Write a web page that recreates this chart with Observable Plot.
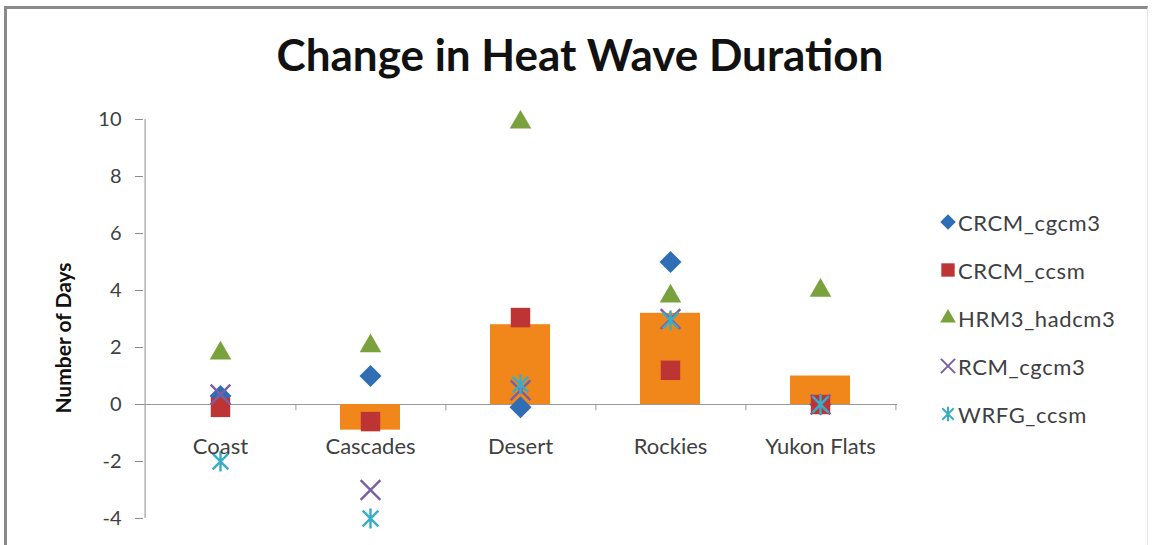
<!DOCTYPE html>
<html>
<head>
<meta charset="utf-8">
<script src="https://cdn.jsdelivr.net/npm/d3@7"></script>
<script src="https://cdn.jsdelivr.net/npm/@observablehq/plot@0.6"></script>
<style>
  html, body { margin: 0; padding: 0; background: #fff; }
  #wrap { position: relative; width: 1153px; height: 545px; overflow: hidden; font-family: Lato, "Open Sans", sans-serif; }
  #wrap svg.plot { position: absolute; left: 0; top: 0; }
  #frame { position: absolute; left: 4px; top: 6px; width: 1144px; height: 560px; border-top: 3px solid #8a8a8a; border-left: 3px solid #8a8a8a; border-right: 1px solid #e4e4e4; box-sizing: border-box; }
  #title { position: absolute; left: 0; width: 1160px; top: 28px; text-align: center; font-weight: 700; font-size: 44px; color: #111; white-space: nowrap; }
  #ylabel { position: absolute; left: 62px; top: 338px; transform: translate(-50%, -50%) rotate(-90deg); font-weight: 700; font-size: 21px; color: #111; white-space: nowrap; }
  #legend { position: absolute; left: 939px; top: 198px; }
  .item { display: flex; align-items: center; height: 48px; font-size: 22px; letter-spacing: 0.6px; color: #404040; }
  .item svg { margin-right: 1px; }
</style>
</head>
<body>
<div id="wrap">
  <div id="frame"></div>
  <div id="title">Change in Heat Wave Duration</div>
  <div id="ylabel">Number of Days</div>
  <div id="legend"></div>
</div>
<script>
// ---- data ----
const regions = ["Coast", "Cascades", "Desert", "Rockies", "Yukon Flats"];
const ensembleMean = [0.0, -0.9, 2.8, 3.2, 1.0];
const seriesNames = ["CRCM_cgcm3", "CRCM_ccsm", "HRM3_hadcm3", "RCM_cgcm3", "WRFG_ccsm"];
const CRCM_cgcm3 = [0.3, 1.0, -0.1, 5.0, 0.0];
const CRCM_ccsm = [-0.1, -0.6, 3.05, 1.2, 0.0];
const HRM3_hadcm3 = [1.8, 2.05, 9.9, 3.8, 4.0];
const RCM_cgcm3 = [0.35, -3.0, 0.5, 3.0, 0.0];
const WRFG_ccsm = [-2.0, -4.0, 0.7, 2.95, 0.0];
const yTicks = [-4, -2, 0, 2, 4, 6, 8, 10];

// ---- styles ----
// Excel-style "star" marker: an X plus a vertical stroke
const star = {
  draw(context, size) {
    const r = Math.sqrt(size) * 0.59;
    const a = r * 0.78;
    context.moveTo(0, -r); context.lineTo(0, r);
    context.moveTo(-a, -a); context.lineTo(a, a);
    context.moveTo(-a, a); context.lineTo(a, -a);
  }
};
const seriesValues = [CRCM_cgcm3, CRCM_ccsm, HRM3_hadcm3, RCM_cgcm3, WRFG_ccsm];
const symbols = [d3.symbolDiamond2, d3.symbolSquare2, d3.symbolTriangle2, d3.symbolTimes, star];
const colors = ["#2f6db5", "#bd3434", "#7aa23c", "#7a5fa6", "#38adc4"];
const sizes = [9.9, 12.4, 10.3, 9.0, 9.6];
const filled = [true, true, true, false, false];
const barColor = "#f1871a";

const W = 1153, H = 545, mL = 143, mR = 256, mT = 119, mB = 27;
const step = (W - mL - mR) / regions.length;

const bars = regions.map((r, i) => ({region: r, value: ensembleMean[i]}));
const points = [];
seriesNames.forEach((s, k) => regions.forEach((r, i) => points.push({series: s, k, region: r, value: seriesValues[k][i]})));

const dotMarks = seriesNames.map((s, k) => Plot.dot(points.filter(d => d.k === k), {
  x: "region", y: "value", symbol: symbols[k], r: sizes[k],
  fill: filled[k] ? colors[k] : "none",
  stroke: filled[k] ? "none" : colors[k],
  strokeWidth: filled[k] ? 0 : 2.4
}));

const chart = Plot.plot({
  width: W, height: H,
  marginLeft: mL, marginRight: mR, marginTop: mT, marginBottom: mB,
  style: {fontFamily: "Lato, 'Open Sans', sans-serif", background: "transparent", overflow: "visible"},
  x: {domain: regions, paddingInner: 0.6, paddingOuter: 0.3, axis: null},
  y: {domain: [-4, 10], axis: null},
  marks: [
    Plot.axisY({ticks: yTicks, tickSize: 8, tickPadding: 14, fontSize: 20, color: "#404040", stroke: "#8c8c8c", label: null, tickFormat: d => String(d)}),
    Plot.ruleX([0], {x: () => regions[0], dx: -step / 2, y1: -4, y2: 10, stroke: "#8c8c8c"}),
    Plot.ruleY([0], {stroke: "#9a9a9a", strokeWidth: 1.2}),
    Plot.ruleX(regions, {x: d => d, dx: step / 2, y1: 0, y2: -0.22, stroke: "#9a9a9a"}),
    Plot.barY(bars, {x: "region", y: "value", fill: barColor}),
    ...dotMarks,
    Plot.text(regions, {x: d => d, y: 0, dy: 42, text: d => d, fontSize: 22, fill: "#404040"})
  ]
});
chart.classList.add("plot");
document.getElementById("wrap").insertBefore(chart, document.getElementById("frame"));

// legend
const leg = d3.select("#legend");
seriesNames.forEach((s, k) => {
  const it = leg.append("div").attr("class", "item");
  const sv = it.append("svg").attr("width", 18).attr("height", 20);
  const rr = [7, 8.5, 7.5, 6.5, 7][k];
  sv.append("path").attr("transform", "translate(9,10)")
    .attr("d", d3.symbol(symbols[k], Math.PI * rr * rr)())
    .attr("fill", filled[k] ? colors[k] : "none")
    .attr("stroke", filled[k] ? "none" : colors[k])
    .attr("stroke-width", 2);
  it.append("span").text(s);
});
</script>
</body>
</html>
